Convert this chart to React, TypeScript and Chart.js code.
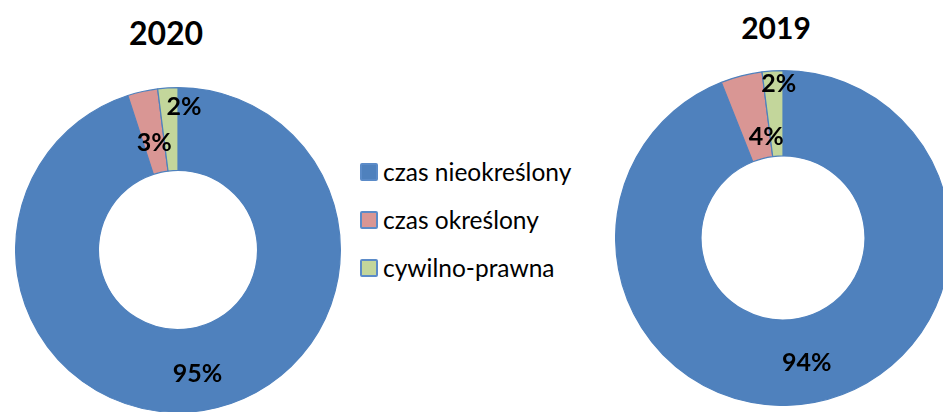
import React, { useEffect, useRef } from "react";
import { Chart, registerables } from "chart.js";

Chart.register(...registerables);

const CATEGORIES = ["czas nieokreślony", "czas określony", "cywilno-prawna"];
const VALUES_2020 = [95, 3, 2];
const VALUES_2019 = [94, 4, 2];
const TITLE_2020 = "2020";
const TITLE_2019 = "2019";

const COLORS = ["#4F81BD", "#D99694", "#C3D69B"];
const BORDER = "#4F81BD";

// label placement (fraction across the ring, angular shift in degrees)
const LABEL_FRAC_2020 = [0.55, 0.36, 0.77];
const LABEL_SHIFT_2020 = [0, 0, 6];
const LABEL_FRAC_2019 = [0.53, 0.24, 0.85];
const LABEL_SHIFT_2019 = [0, 5, 2];

const FONT = "Lato, 'Open Sans', sans-serif";

function Donut(props: {
  values: number[];
  frac: number[];
  shift: number[];
  left: number;
  top: number;
  size: number;
}) {
  const ref = useRef<HTMLCanvasElement | null>(null);
  useEffect(() => {
    const canvas = ref.current!;
    const labelPlugin = {
      id: "pctLabels",
      afterDatasetsDraw(chart: any) {
        const ctx = chart.ctx;
        const meta = chart.getDatasetMeta(0);
        ctx.save();
        ctx.fillStyle = "#000";
        ctx.font = `bold 25px ${FONT}`;
        ctx.textAlign = "center";
        ctx.textBaseline = "middle";
        meta.data.forEach((arc: any, i: number) => {
          const p = arc.getProps(["x", "y", "startAngle", "endAngle", "innerRadius", "outerRadius"], true);
          const mid = (p.startAngle + p.endAngle) / 2 + (props.shift[i] * Math.PI) / 180;
          const r = p.innerRadius + props.frac[i] * (p.outerRadius - p.innerRadius);
          const x = p.x + Math.cos(mid) * r;
          const y = p.y + Math.sin(mid) * r;
          ctx.fillText(`${props.values[i]}%`, x, y);
        });
        ctx.restore();
      },
    };
    const chart = new Chart(canvas, {
      type: "doughnut",
      data: {
        labels: CATEGORIES,
        datasets: [
          {
            data: props.values,
            backgroundColor: COLORS,
            borderColor: BORDER,
            borderWidth: 1.2,
          },
        ],
      },
      options: {
        responsive: false,
        animation: false,
        cutout: "49%",
        layout: { padding: 0 },
        plugins: {
          legend: { display: false },
          tooltip: { enabled: false },
          title: { display: false },
        },
      },
      plugins: [labelPlugin],
    });
    return () => chart.destroy();
  }, []);
  return (
    <canvas
      ref={ref}
      width={props.size}
      height={props.size}
      style={{
        position: "absolute",
        left: props.left,
        top: props.top,
        width: props.size,
        height: props.size,
      }}
    />
  );
}

function LegendRow(props: { label: string; color: string; top: number }) {
  return (
    <div
      style={{
        position: "absolute",
        left: 360,
        top: props.top,
        height: 24,
        display: "flex",
        alignItems: "center",
        whiteSpace: "nowrap",
      }}
    >
      <div
        style={{
          width: 14,
          height: 14,
          background: props.color,
          border: "2px solid #5B8BC8",
          borderRadius: 2,
          marginRight: 5,
        }}
      />
      <span style={{ fontFamily: FONT, fontSize: 24.5, color: "#000", lineHeight: "24px" }}>{props.label}</span>
    </div>
  );
}

export default function App() {
  return (
    <div
      style={{
        position: "fixed",
        left: 0,
        top: 0,
        width: 943,
        height: 412,
        overflow: "hidden",
        background: "#fff",
      }}
    >
      <Donut values={VALUES_2020} frac={LABEL_FRAC_2020} shift={LABEL_SHIFT_2020} left={15} top={87} size={326} />
      <Donut values={VALUES_2019} frac={LABEL_FRAC_2019} shift={LABEL_SHIFT_2019} left={615} top={70} size={336} />
      <div
        style={{
          position: "absolute",
          left: 66,
          width: 200,
          top: 17,
          textAlign: "center",
          fontFamily: FONT,
          fontWeight: 700,
          fontSize: 32,
          lineHeight: "32px",
          color: "#000",
        }}
      >
        {TITLE_2020}
      </div>
      <div
        style={{
          position: "absolute",
          left: 676,
          width: 200,
          top: 12,
          textAlign: "center",
          fontFamily: FONT,
          fontWeight: 700,
          fontSize: 30,
          lineHeight: "30px",
          color: "#000",
        }}
      >
        {TITLE_2019}
      </div>
      {CATEGORIES.map((c, i) => (
        <LegendRow key={c} label={c} color={COLORS[i]} top={160 + i * 48} />
      ))}
    </div>
  );
}
